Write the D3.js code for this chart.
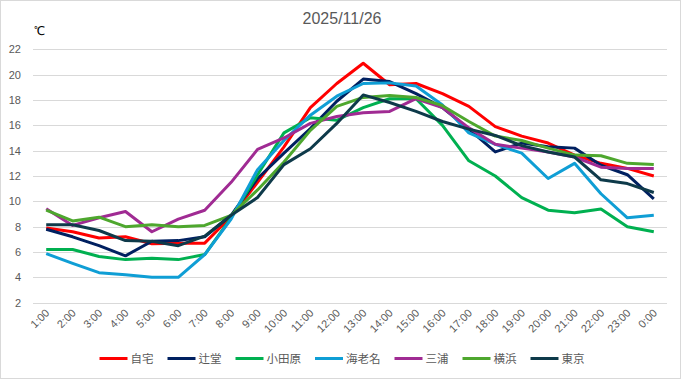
<!DOCTYPE html>
<html lang="ja">
<head>
<meta charset="UTF-8">
<title>2025/11/26</title>
<style>
    body { margin: 0; background: #fff; }
    svg { display: block; font-family: 'Liberation Sans', Arial, sans-serif; }
    .grid line { stroke: #d9d9d9; stroke-width: 1; }
    .tick-label { fill: #595959; font-size: 11px; }
    .legend text { fill: #595959; font-size: 11.5px; font-family: 'Noto Sans CJK JP', sans-serif; }
    .series { fill: none; stroke-width: 3; stroke-linejoin: round; }
</style>
</head>
<body>
<div id="chart"></div>
<script src="https://d3js.org/d3.v7.min.js"></script>
<script>
    // hours on the x axis
    const hours = ["1:00", "2:00", "3:00", "4:00", "5:00", "6:00", "7:00", "8:00", "9:00", "10:00", "11:00", "12:00",
        "13:00", "14:00", "15:00", "16:00", "17:00", "18:00", "19:00", "20:00", "21:00", "22:00", "23:00", "0:00"];

    const yTicks = [2, 4, 6, 8, 10, 12, 14, 16, 18, 20, 22];

    // temperature series (℃)
    const jitaku = [7.9, 7.6, 7.1, 7.2, 6.65, 6.7, 6.7, 8.8, 11.5, 14.3, 17.4, 19.3, 20.9, 19.2, 19.3, 18.5, 17.5, 15.9, 15.15, 14.6, 13.65, 13.0, 12.6, 12.0];
    const tsujido = [7.8, 7.2, 6.5, 5.7, 6.85, 6.9, 7.2, 8.9, 11.8, 13.8, 15.75, 17.9, 19.65, 19.45, 18.5, 17.4, 15.7, 13.9, 14.6, 14.3, 14.2, 12.85, 12.1, 10.2];
    const odawara = [6.2, 6.2, 5.65, 5.4, 5.5, 5.4, 5.8, 8.7, 12.1, 15.4, 16.6, 16.4, 17.4, 18.1, 18.1, 16.0, 13.2, 12.0, 10.3, 9.3, 9.1, 9.4, 8.0, 7.6];
    const ebina = [5.87, 5.1, 4.37, 4.2, 4.0, 4.0, 5.8, 8.6, 12.5, 14.8, 16.8, 18.3, 19.3, 19.35, 19.1, 17.6, 15.4, 14.5, 13.8, 11.8, 13.0, 10.6, 8.7, 8.9];
    const miura = [9.42, 8.1, 8.7, 9.2, 7.6, 8.6, 9.3, 11.5, 14.1, 15.0, 16.15, 16.7, 17.0, 17.1, 18.1, 17.4, 15.8, 14.5, 14.2, 13.9, 13.5, 12.7, 12.6, 12.6];
    const yokohama = [9.3, 8.45, 8.75, 8.0, 8.15, 8.0, 8.1, 8.9, 10.9, 13.1, 15.6, 17.5, 18.2, 18.35, 18.2, 17.55, 16.3, 15.15, 14.8, 14.2, 13.65, 13.6, 13.0, 12.9];
    const tokyo = [8.15, 8.15, 7.7, 6.9, 6.85, 6.5, 7.25, 8.9, 10.3, 12.9, 14.15, 16.15, 18.4, 17.8, 17.1, 16.3, 15.7, 15.2, 14.4, 13.9, 13.5, 11.7, 11.4, 10.7];

    const seriesNames = ["自宅", "辻堂", "小田原", "海老名", "三浦", "横浜", "東京"];
    const seriesColors = ["#ff0000", "#002060", "#00b050", "#0f9ed5", "#a02b93", "#4ea72e", "#0e3a4a"];
    const seriesValues = [jitaku, tsujido, odawara, ebina, miura, yokohama, tokyo];

    const width = 681;
    const height = 379;
    const plot = { left: 33, right: 667, top: 49.3, bottom: 302.7 };

    const svg = d3.select("#chart").append("svg")
        .attr("width", width)
        .attr("height", height);

    // chart border
    svg.append("rect")
        .attr("x", 0.5).attr("y", 0.5)
        .attr("width", width - 1).attr("height", height - 1)
        .attr("fill", "#fff")
        .attr("stroke", "#d9d9d9");

    const x = d3.scalePoint().domain(hours).range([plot.left, plot.right]).padding(0.5);
    const y = d3.scaleLinear().domain([2, 22]).range([plot.bottom, plot.top]);

    // gridlines
    svg.append("g").attr("class", "grid")
        .selectAll("line")
        .data(yTicks)
        .join("line")
        .attr("x1", plot.left).attr("x2", plot.right)
        .attr("y1", d => Math.round(y(d)) + 0.5)
        .attr("y2", d => Math.round(y(d)) + 0.5);

    // y tick labels
    svg.append("g")
        .selectAll("text")
        .data(yTicks)
        .join("text")
        .attr("class", "tick-label")
        .attr("x", 21)
        .attr("y", d => y(d) + 4)
        .attr("text-anchor", "end")
        .text(d => d);

    // x tick labels, rotated
    svg.append("g")
        .selectAll("text")
        .data(hours)
        .join("text")
        .attr("class", "tick-label")
        .attr("text-anchor", "end")
        .attr("transform", d => `translate(${x(d) + 4},${plot.bottom + 11}) rotate(-45)`)
        .text(d => d);

    // unit label and title
    svg.append("text")
        .attr("x", 34).attr("y", 35)
        .attr("font-size", 12)
        .attr("fill", "#000")
        .text("℃");

    svg.append("text")
        .attr("x", 342).attr("y", 24)
        .attr("text-anchor", "middle")
        .attr("font-size", 16)
        .attr("fill", "#595959")
        .text("2025/11/26");

    // lines
    const line = d3.line()
        .x((d, i) => x(hours[i]))
        .y(d => y(d));

    svg.append("g")
        .selectAll("path")
        .data(seriesValues)
        .join("path")
        .attr("class", "series")
        .attr("stroke", (d, i) => seriesColors[i])
        .attr("d", line);

    // legend
    const legend = svg.append("g").attr("class", "legend");
    const items = legend.selectAll("g")
        .data(seriesNames)
        .join("g");
    items.append("line")
        .attr("x1", 0).attr("x2", 28)
        .attr("y1", 0).attr("y2", 0)
        .attr("stroke", (d, i) => seriesColors[i])
        .attr("stroke-width", 3);
    items.append("text")
        .attr("x", 31).attr("y", 4.5)
        .text(d => d);

    const gap = 14;
    let offset = 0;
    const positions = [];
    items.each(function () {
        positions.push(offset);
        offset += 31 + this.querySelector("text").getComputedTextLength() + gap;
    });
    const total = offset - gap;
    const start = 342 - total / 2;
    items.attr("transform", (d, i) => `translate(${start + positions[i]},358.5)`);
</script>
</body>
</html>
